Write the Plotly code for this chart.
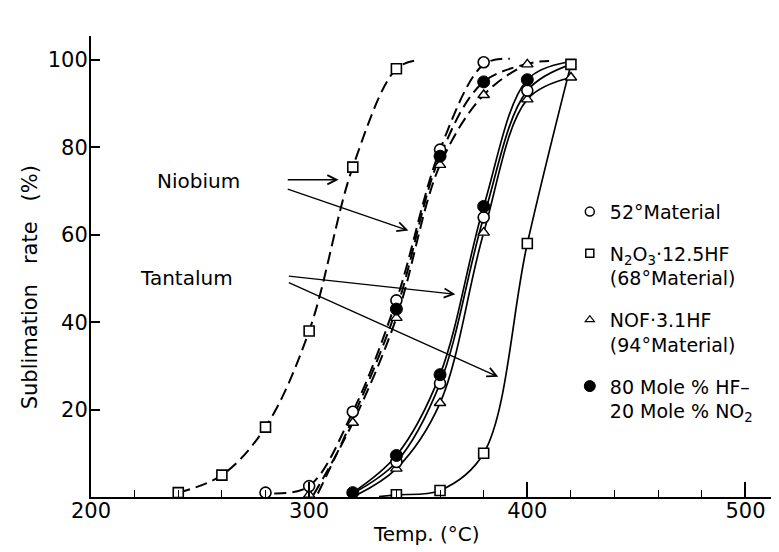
import plotly.graph_objects as go

# ---------------- data ----------------
# Niobium (dashed curves) - measured points
nb_circle_x = [280, 300, 320, 340, 360, 380]
nb_circle_y = [1, 2.5, 19.5, 45, 79.5, 99.5]
nb_square_x = [240, 260, 280, 300, 320, 340]
nb_square_y = [1, 5, 16, 38, 75.5, 98]
nb_tri_x = [300, 320, 340, 360, 380, 400]
nb_tri_y = [0.5, 17, 41, 76, 92, 99]
nb_fill_x = [340, 360, 380]
nb_fill_y = [43, 78, 95]

# Niobium curves as drawn
nb_circle_cx = [284, 300, 320, 340, 360, 380, 392]
nb_circle_cy = [0.8, 2.5, 19.5, 45, 79.5, 99, 100.3]
nb_square_cx = [240, 260, 280, 300, 320, 340, 350]
nb_square_cy = [1, 5, 16, 38, 75.5, 98, 100]
nb_tri_cx = [302, 320, 340, 360, 380, 400, 410]
nb_tri_cy = [0.5, 17, 41, 76, 92, 99, 99.8]
nb_fill_cx = [304, 320, 340, 360, 380, 404]
nb_fill_cy = [0.8, 18, 43, 78, 95, 99.5]

# Tantalum (solid curves) - measured points
ta_fill_x = [320, 340, 360, 380, 400]
ta_fill_y = [1, 9.5, 28, 66.5, 95.5]
ta_circle_x = [340, 360, 380, 400]
ta_circle_y = [8, 26, 64, 93]
ta_tri_x = [340, 360, 380, 400, 420]
ta_tri_y = [6.5, 21.5, 60.5, 91, 96]
ta_square_x = [340, 360, 380, 400, 420]
ta_square_y = [0.5, 1.5, 10, 58, 99]

# Tantalum curves as drawn
ta_fill_cx = [320, 340, 360, 380, 400, 418]
ta_fill_cy = [1, 9.5, 28, 66.5, 95.5, 99.5]
ta_circle_cx = [320, 340, 360, 380, 400, 420]
ta_circle_cy = [0.8, 8, 26, 64, 93, 99]
ta_tri_cx = [322, 340, 360, 380, 400, 420]
ta_tri_cy = [0.5, 6.5, 21.5, 60.5, 91, 96]
ta_square_cx = [332, 340, 360, 380, 400, 420]
ta_square_cy = [0.1, 0.5, 1.5, 10, 58, 99]

x_ticks = [200, 300, 400, 500]
y_ticks = [20, 40, 60, 80, 100]

legend_names = [
    "52°Material",
    "N<sub>2</sub>O<sub>3</sub>·12.5HF<br>(68°Material)",
    "NOF·3.1HF<br>(94°Material)",
    "80 Mole % HF–<br>20 Mole % NO<sub>2</sub>",
]

# Text labels: (text, right-edge x, y)
labels = [("Niobium", 269, 72.3), ("Tantalum", 266, 50.2)]
# arrows: (tail x, tail y, head x, head y)
arrows = [
    (289.5, 72.6, 313.5, 72.6),
    (289.5, 70.6, 345.5, 61),
    (290, 50.6, 367, 46.4),
    (290, 49.2, 386.7, 27.5),
]

FONT = "DejaVu Sans"
fig = go.Figure()

def curve(x, y, dash):
    fig.add_trace(go.Scatter(
        x=x, y=y, mode="lines", showlegend=False, hoverinfo="skip",
        line=dict(color="black", width=2.0 if dash else 1.7, shape="spline",
                  smoothing=1.0, dash="12px,6px" if dash else "solid")))

for cx, cy in [(nb_circle_cx, nb_circle_cy), (nb_square_cx, nb_square_cy),
               (nb_tri_cx, nb_tri_cy), (nb_fill_cx, nb_fill_cy)]:
    curve(cx, cy, True)
for cx, cy in [(ta_fill_cx, ta_fill_cy), (ta_circle_cx, ta_circle_cy),
               (ta_tri_cx, ta_tri_cy), (ta_square_cx, ta_square_cy)]:
    curve(cx, cy, False)

styles = {
    "circle": dict(symbol="circle", size=11, color="white", line=dict(color="black", width=1.6)),
    "square": dict(symbol="square", size=10, color="white", line=dict(color="black", width=1.6)),
    "tri": dict(symbol="triangle-up", size=10, color="white", line=dict(color="black", width=1.4)),
    "fill": dict(symbol="circle", size=12, color="black", line=dict(color="black", width=1)),
}

def pts(x, y, key):
    fig.add_trace(go.Scatter(x=x, y=y, mode="markers", showlegend=False,
                             marker=styles[key]))

pts(nb_square_x, nb_square_y, "square")
pts(nb_tri_x, nb_tri_y, "tri")
pts(nb_circle_x, nb_circle_y, "circle")
pts(nb_fill_x, nb_fill_y, "fill")
pts(ta_square_x, ta_square_y, "square")
pts(ta_tri_x, ta_tri_y, "tri")
pts(ta_circle_x, ta_circle_y, "circle")
pts(ta_fill_x, ta_fill_y, "fill")

leg_styles = [
    dict(symbol="circle", size=9, color="white", line=dict(color="black", width=1.5)),
    dict(symbol="square", size=8, color="white", line=dict(color="black", width=1.5)),
    dict(symbol="triangle-up", size=8, color="white", line=dict(color="black", width=1.2)),
    dict(symbol="circle", size=11, color="black", line=dict(color="black", width=1)),
]
for i, (name, ms) in enumerate(zip(legend_names, leg_styles)):
    fig.add_trace(go.Scatter(x=[None], y=[None], mode="markers", name=name,
                             marker=ms, legendgroup=f"g{i}"))

for text, x, y in labels:
    fig.add_annotation(x=x, y=y, text=text, showarrow=False, xanchor="right",
                       font=dict(family=FONT, size=20, color="black"))
for tx, ty, hx, hy in arrows:
    fig.add_annotation(x=hx, y=hy, ax=tx, ay=ty, axref="x", ayref="y",
                       xref="x", yref="y", text="", showarrow=True,
                       arrowhead=5, arrowsize=1.4, arrowwidth=1.3,
                       arrowcolor="black", standoff=0, startstandoff=0)

# axis titles
fig.add_annotation(x=353.7, y=-0.11, xref="x", yref="paper", text="Temp. (°C)",
                   xanchor="center", showarrow=False,
                   font=dict(family=FONT, size=20, color="black"))
fig.add_annotation(x=-0.089, y=48, xref="paper", yref="y", xanchor="center", yanchor="middle",
                   text="Sublimation&nbsp;&nbsp;&nbsp;rate&nbsp;&nbsp;&nbsp;(%)", textangle=-90,
                   showarrow=False, font=dict(family=FONT, size=21, color="black"))

fig.update_layout(
    width=779, height=552,
    margin=dict(l=83, r=11, t=28, b=63),
    paper_bgcolor="white", plot_bgcolor="white",
    font=dict(family=FONT, size=19, color="black"),
    showlegend=True,
    legend=dict(x=0.699, y=0.66, xanchor="left", yanchor="top",
                font=dict(family=FONT, size=19, color="black"),
                valign="top", tracegroupgap=14, bgcolor="rgba(0,0,0,0)",
                itemclick=False),
    xaxis=dict(range=[200, 514], tickvals=x_ticks, ticktext=[str(v) for v in x_ticks],
               ticks="inside", ticklen=15, tickwidth=1.5, tickcolor="black",
               minor=dict(dtick=20, tick0=200, ticks="inside", ticklen=7,
                          tickwidth=1.3, tickcolor="black"),
               showline=True, linecolor="black", linewidth=2, showgrid=False,
               zeroline=False, tickfont=dict(family=FONT, size=21),
               ticklabelstandoff=-6),
    yaxis=dict(range=[0, 105.5], tickvals=y_ticks, ticktext=[str(v) for v in y_ticks],
               ticks="inside", ticklen=9, tickwidth=1.5, tickcolor="black",
               showline=True, linecolor="black", linewidth=2, showgrid=False,
               zeroline=False, tickfont=dict(family=FONT, size=21),
               ticklabelstandoff=-3),
)

fig.write_html("out.html")
